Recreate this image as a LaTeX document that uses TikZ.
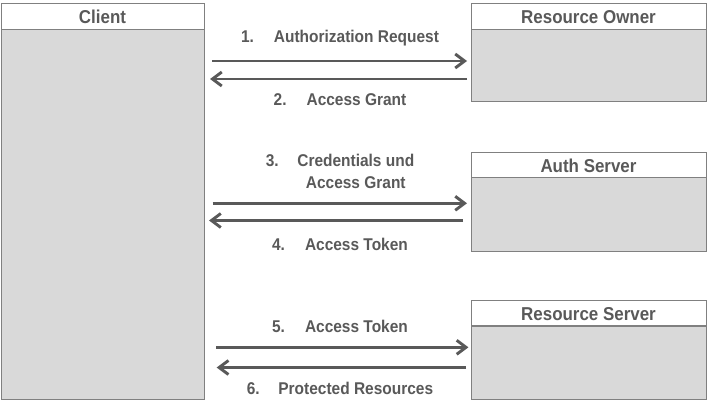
\documentclass[tikz,border=0pt]{standalone}
\usepackage{graphicx}
\usepackage{fontspec}
\setmainfont{Liberation Sans}
\usetikzlibrary{arrows.meta}
\definecolor{txt}{HTML}{595959}
\definecolor{bord}{HTML}{808080}
\definecolor{bodyfill}{HTML}{D9D9D9}
\newcommand\ys[1]{\scalebox{1}[1.1]{#1}}
\begin{document}
\begin{tikzpicture}[x=0.75pt,y=-0.75pt,
  hdr/.style={draw=bord, fill=white, line width=0.75pt, inner sep=0pt, outer sep=0pt},
  bodybox/.style={draw=bord, fill=bodyfill, line width=0.75pt, inner sep=0pt, outer sep=0pt},
  title/.style={text=txt, font=\fontsize{12.7pt}{15pt}\selectfont\bfseries, anchor=base, inner sep=0pt},
  lbl/.style={text=txt, font=\fontsize{11.6pt}{15pt}\selectfont\bfseries, anchor=base, inner sep=0pt},
  arr/.style={draw=txt, line width=2.2pt, -{Straight Barb[length=7pt,width=10.5pt]}}]
\useasboundingbox (0,0) rectangle (709,403);

% Client
\node[hdr, minimum width=152.25pt, minimum height=19.5pt] (clienth) at (102.5,16.3) {};
\node[bodybox, minimum width=152.25pt, minimum height=278pt] (client) at (102.5,214.65) {};
\node[title] (tclient) at (102.5,23.7) {\ys{Client}};

% Resource Owner
\node[hdr, minimum width=176.25pt, minimum height=19.5pt] (roh) at (588.5,16.4) {};
\node[bodybox, minimum width=176.25pt, minimum height=54pt] (ro) at (588.5,65.4) {};
\node[title] (tro) at (588.5,23.7) {\ys{Resource Owner}};

% Auth Server
\node[hdr, minimum width=176.25pt, minimum height=18.75pt] (authh) at (588.5,164.75) {};
\node[bodybox, minimum width=176.25pt, minimum height=55.5pt] (auth) at (588.5,214) {};
\node[title] (tauth) at (588.5,172.5) {\ys{Auth Server}};

% Resource Server
\node[hdr, minimum width=176.25pt, minimum height=19.1pt] (rsh) at (588.5,313.25) {};
\node[bodybox, minimum width=176.25pt, minimum height=55.1pt] (rs) at (588.5,362.75) {};
\node[title] (trs) at (588.5,320.7) {\ys{Resource Server}};

% Labels
\node[lbl] (l1) at (340,43) {\ys{1.\hspace{15pt}Authorization Request}};
\node[lbl] (l2) at (340,105) {\ys{2.\hspace{15pt}Access Grant}};
\node[lbl] (l3) at (340,166.7) {\ys{3.\hspace{14pt}\begin{tabular}[t]{@{}c@{}}Credentials und\\Access Grant\end{tabular}}};
\node[lbl] (l4) at (340,250) {\ys{4.\hspace{15pt}Access Token}};
\node[lbl] (l5) at (340,332) {\ys{5.\hspace{15pt}Access Token}};
\node[lbl] (l6) at (340,394) {\ys{6.\hspace{14pt}Protected Resources}};

% Arrows
\draw[arr, shorten <=6pt, shorten >=3pt] (client.east |- 0,61) -- (ro.west |- 0,61);
\draw[arr, shorten <=3pt, shorten >=4.5pt] (ro.west |- 0,79) -- (client.east |- 0,79);
\draw[arr, shorten <=6.5pt, shorten >=3pt] (client.east |- 0,203.3) -- (auth.west |- 0,203.3);
\draw[arr, shorten <=6pt, shorten >=3.75pt] (auth.west |- 0,220.5) -- (client.east |- 0,220.5);
\draw[arr, shorten <=9pt, shorten >=1.9pt] (client.east |- 0,347.3) -- (rs.west |- 0,347.3);
\draw[arr, shorten <=3.75pt, shorten >=9.5pt] (rs.west |- 0,367.5) -- (client.east |- 0,367.5);
\end{tikzpicture}
\end{document}
